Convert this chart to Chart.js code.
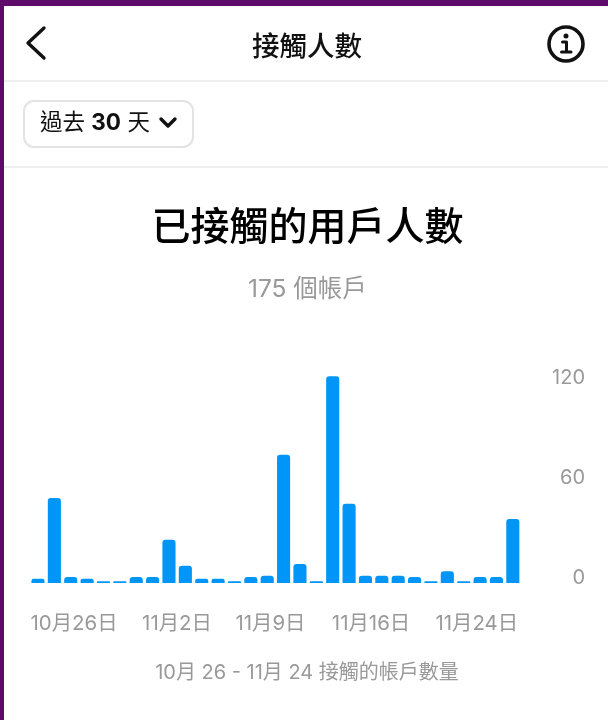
<!DOCTYPE html>
<html>
<head>
<meta charset="utf-8">
<script src="https://cdn.jsdelivr.net/npm/chart.js@4/dist/chart.umd.min.js"></script>
<style>
  html, body { margin: 0; padding: 0; background: #fff; }
  body { width: 608px; height: 720px; position: relative; overflow: hidden;
         font-family: Inter, "Noto Sans CJK TC", sans-serif; color: #111; }
  #myChart { position: absolute; left: 0; top: 0; }
  .edge { position: absolute; background: #5e0a68; }
  .rule { position: absolute; left: 4px; right: 0; height: 2px; background: #efefef; }
  #head { position: absolute; left: 6px; right: 0; top: 26px; text-align: center; font-size: 27.5px;
          line-height: 40px; font-weight: 500; }
  #range { position: absolute; left: 23px; top: 100px; width: 167px; height: 44px; border: 2px solid #e3e3e3;
           border-radius: 11px; font-size: 22.5px; line-height: 43px; padding-left: 0; white-space: nowrap; }
  #range span { position: absolute; left: 15px; top: -2px; }
  #range b { font-weight: 700; }
  #caption { position: absolute; left: 6px; right: 0; top: 657px; text-align: center; font-size: 20px;
             line-height: 30px; color: #999; }
  svg { position: absolute; overflow: visible; }
</style>
</head>
<body>
<canvas id="myChart" width="608" height="720"></canvas>
<div class="edge" style="left:0;top:0;width:608px;height:6px"></div>
<div class="edge" style="left:0;top:0;width:4px;height:720px"></div>
<div class="rule" style="top:80px"></div>
<div class="rule" style="top:166px"></div>
<div id="head">接觸人數</div>
<svg style="left:0;top:0" width="608" height="170" fill="none" stroke="#111" stroke-linecap="round" stroke-linejoin="round">
  <path d="M44 28 L28 43 L44 58" stroke-width="3.4"/>
  <circle cx="566" cy="44" r="17" stroke-width="3.6"/>
  <path d="M562.5 42 H566.5 V52 M561.5 52 H571" stroke-width="3"/>
  <circle cx="566" cy="36" r="1.2" stroke-width="2.6"/>
  <path d="M161 119 L168 126 L175 119" stroke-width="3.4"/>
</svg>
<div id="range"><span>過去 <b>30</b> 天</span></div>
<div id="caption">10月 26 - 11月 24 接觸的帳戶數量</div>
<script>
const days = ['10/26','10/27','10/28','10/29','10/30','10/31','11/1','11/2','11/3','11/4','11/5','11/6','11/7','11/8','11/9',
  '11/10','11/11','11/12','11/13','11/14','11/15','11/16','11/17','11/18','11/19','11/20','11/21','11/22','11/23','11/24'];
const reached = [2.5,51,3.6,2.6,1,1,3.6,3.6,26,10.4,2.6,2.6,1,3.6,4.4,77,11.4,1,124,47.6,4.4,4.4,4.4,3.6,1,7,1,3.6,3.6,38.4];
const dateLabels = ['10月26日','11月2日','11月9日','11月16日','11月24日'];
const dateSlots = [2.2,8.49,14.2,20.34,26.8];
const yTicks = [0,60,120];
const grey = '#999999';
const fontFam = 'Inter, "Noto Sans CJK TC", sans-serif';

const config = {
  type: 'bar',
  data: {
    labels: days,
    datasets: [{
      data: reached,
      backgroundColor: '#0095f6',
      borderRadius: { topLeft: 3, topRight: 3, bottomLeft: 0, bottomRight: 0 },
      borderSkipped: false,
      barPercentage: 0.8,
      categoryPercentage: 1,
      xAxisID: 'x',
      yAxisID: 'y'
    }]
  },
  options: {
    responsive: false,
    animation: false,
    layout: { padding: { top: 204.6, left: 29.8, right: 23, bottom: 0 } },
    plugins: {
      legend: { display: false },
      tooltip: { enabled: false },
      title: {
        display: true,
        text: '已接觸的用戶人數',
        color: '#000',
        font: { family: fontFam, size: 39, weight: '500', lineHeight: 1.2 },
        padding: { top: 0, bottom: 23.4 }
      },
      subtitle: {
        display: true,
        text: '175 個帳戶',
        color: grey,
        font: { family: fontFam, size: 24.5, weight: '400', lineHeight: 1.2 },
        padding: { top: 0, bottom: 62.1 }
      }
    },
    scales: {
      x: { display: false, grid: { display: false } },
      y: {
        position: 'right',
        min: 0,
        max: 130,
        grid: { display: false },
        border: { display: false },
        afterBuildTicks: s => { s.ticks = yTicks.map(v => ({ value: v })); },
        afterFit: s => { s.width = 64; },
        ticks: {
          color: grey,
          crossAlign: 'far',
          labelOffset: -5,
          padding: 0,
          font: { family: fontFam, size: 20 }
        }
      },
      // date labels sit evenly along the row, not under their own bars
      xDates: {
        type: 'linear',
        position: 'bottom',
        offset: false,
        min: -0.5,
        max: 29.5,
        grid: { display: false, drawTicks: false },
        border: { display: false },
        afterBuildTicks: s => { s.ticks = dateSlots.map(v => ({ value: v })); },
        afterFit: s => { s.height = 137; s.paddingLeft = 0; s.paddingRight = 0; },
        ticks: {
          color: grey,
          autoSkip: false,
          maxRotation: 0,
          padding: 29,
          font: { family: fontFam, size: 20.4 },
          callback: v => dateLabels[dateSlots.indexOf(v)]
        }
      }
    }
  }
};

var myChart = new Chart(document.getElementById('myChart'), config);
</script>
</body>
</html>
